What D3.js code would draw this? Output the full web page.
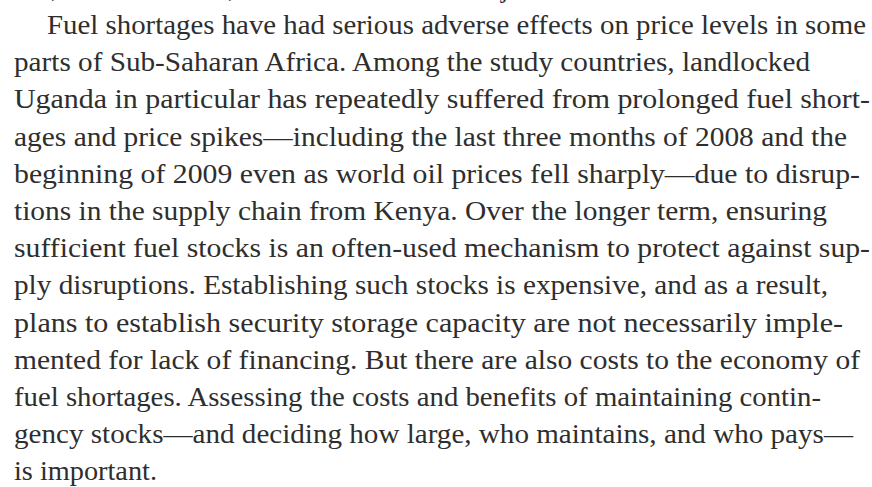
<!DOCTYPE html>
<html>
<head>
<meta charset="utf-8">
<script src="https://cdn.jsdelivr.net/npm/d3@7"></script>
<style>
  html, body { margin: 0; padding: 0; background: #fff; }
  svg text { font-family: "Liberation Serif", "DejaVu Serif", serif; fill: #2e2e2e; }
</style>
</head>
<body>
<div id="page"></div>
<script>
// paragraph text, one entry per printed line
const lines = [
  "Fuel shortages have had serious adverse effects on price levels in some",
  "parts of Sub-Saharan Africa. Among the study countries, landlocked",
  "Uganda in particular has repeatedly suffered from prolonged fuel short-",
  "ages and price spikes\u2014including the last three months of 2008 and the",
  "beginning of 2009 even as world oil prices fell sharply\u2014due to disrup-",
  "tions in the supply chain from Kenya. Over the longer term, ensuring",
  "sufficient fuel stocks is an often-used mechanism to protect against sup-",
  "ply disruptions. Establishing such stocks is expensive, and as a result,",
  "plans to establish security storage capacity are not necessarily imple-",
  "mented for lack of financing. But there are also costs to the economy of",
  "fuel shortages. Assessing the costs and benefits of maintaining contin-",
  "gency stocks\u2014and deciding how large, who maintains, and who pays\u2014",
  "is important."
];

// descenders of the line above, which is cut off by the page top
const cutMarks = [",", ",", "j"];

const width = 872;
const height = 487;

// layout
const left = 14, indent = 47;
const firstBaseline = 34, lineHeight = 37.2;
const fontSize = 27;
const lineEnds = [866, 810, 870, 847, 860, 827, 870, 828, 843, 860, 821, 853, 157];
const cutX = [51, 228, 501];

const svg = d3.select("#page")
  .append("svg")
  .attr("width", width)
  .attr("height", height);

const y = d3.scaleLinear()
  .domain([0, 1])
  .range([firstBaseline, firstBaseline + lineHeight]);

svg.append("g")
  .selectAll("text")
  .data(cutMarks)
  .enter()
  .append("text")
  .attr("x", (d, i) => cutX[i])
  .attr("y", y(-1))
  .attr("font-size", fontSize)
  .text(d => d);

const rows = svg.append("g")
  .selectAll("text")
  .data(lines)
  .enter()
  .append("text")
  .attr("x", (d, i) => i === 0 ? indent : left)
  .attr("y", (d, i) => y(i))
  .attr("font-size", fontSize)
  .text(d => d);

// fit each line to the measure it has in print
rows.each(function (d, i) {
  const x0 = i === 0 ? indent : left;
  d3.select(this)
    .attr("textLength", lineEnds[i] - x0)
    .attr("lengthAdjust", "spacingAndGlyphs");
});
</script>
</body>
</html>
